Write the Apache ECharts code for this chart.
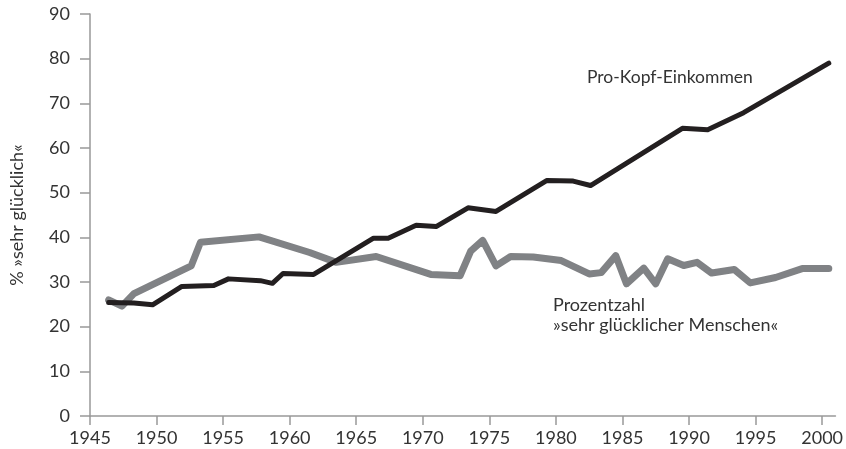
<!DOCTYPE html>
<html>
<head>
<meta charset="utf-8">
<script src="https://cdn.jsdelivr.net/npm/echarts@6/dist/echarts.min.js"></script>
<style>
  html, body { margin: 0; padding: 0; background: #fff; }
  #chart { width: 846px; height: 449px; }
</style>
</head>
<body>
<div id="chart"></div>
<script>
// values
const einkommen = [
  [1946.4, 25.4], [1948.3, 25.3], [1949.7, 24.9], [1951.9, 29.0], [1954.3, 29.2],
  [1955.4, 30.7], [1957.8, 30.3], [1958.7, 29.7], [1959.5, 31.9], [1961.8, 31.7],
  [1966.3, 39.8], [1967.4, 39.8], [1969.5, 42.7], [1971.0, 42.4], [1973.4, 46.6],
  [1975.5, 45.8], [1979.3, 52.7], [1981.3, 52.6], [1982.6, 51.6], [1989.5, 64.4],
  [1991.4, 64.1], [1994.1, 67.9], [2000.5, 79.0]
];
const gluecklich = [
  [1946.4, 26.0], [1947.4, 24.6], [1948.3, 27.4], [1952.6, 33.6], [1953.3, 38.9],
  [1957.7, 40.1], [1961.5, 36.6], [1963.5, 34.4], [1966.5, 35.7], [1970.6, 31.7],
  [1972.8, 31.4], [1973.6, 36.9], [1974.5, 39.3], [1975.5, 33.6], [1976.6, 35.7],
  [1978.3, 35.6], [1980.4, 34.8], [1982.5, 31.8], [1983.4, 32.1], [1984.5, 35.9],
  [1985.3, 29.6], [1986.6, 33.1], [1987.5, 29.6], [1988.4, 35.2], [1989.6, 33.7],
  [1990.6, 34.4], [1991.7, 32.0], [1993.4, 32.8], [1994.6, 29.8], [1996.5, 31.0],
  [1998.5, 33.0], [2000.5, 33.0]
];
const xTicks = [1945, 1950, 1955, 1960, 1965, 1970, 1975, 1980, 1985, 1990, 1995, 2000];

const font = 'Lato, "Open Sans", sans-serif';
const textColor = '#333';
const axisColor = '#999';

const chart = echarts.init(document.getElementById('chart'));

chart.setOption({
  animation: false,
  grid: { left: 89, right: 9, top: 14, bottom: 33 },
  xAxis: {
    type: 'value',
    min: 1945,
    max: 2001,
    splitLine: { show: false },
    axisLine: { show: true, lineStyle: { color: axisColor, width: 1.5 } },
    axisTick: { show: true, length: 9, customValues: xTicks, lineStyle: { color: axisColor, width: 1.5 } },
    axisLabel: {
      customValues: xTicks, margin: 13, fontFamily: font, fontSize: 18, color: textColor,
      formatter: v => String(v)
    }
  },
  yAxis: {
    type: 'value',
    min: 0,
    max: 90,
    interval: 10,
    name: '% »sehr glücklich«',
    nameLocation: 'middle',
    nameGap: 64,
    nameTextStyle: { fontFamily: font, fontSize: 18, color: textColor },
    splitLine: { show: false },
    axisLine: { show: true, lineStyle: { color: axisColor, width: 1.5 } },
    axisTick: { show: true, length: 10, lineStyle: { color: axisColor, width: 1.5 } },
    axisLabel: { margin: 20, fontFamily: font, fontSize: 18, color: textColor }
  },
  series: [
    {
      name: 'Prozentzahl »sehr glücklicher Menschen«',
      type: 'line',
      data: gluecklich,
      showSymbol: false,
      z: 2,
      lineStyle: { color: '#808285', width: 7, cap: 'round', join: 'round' }
    },
    {
      name: 'Pro-Kopf-Einkommen',
      type: 'line',
      data: einkommen,
      showSymbol: false,
      z: 3,
      lineStyle: { color: '#231f20', width: 5, cap: 'round', join: 'round' }
    }
  ],
  graphic: [
    {
      type: 'text', left: 587, top: 68,
      style: { text: 'Pro-Kopf-Einkommen', font: '17.5px ' + font, fill: textColor }
    },
    {
      type: 'text', left: 553, top: 295,
      style: { text: 'Prozentzahl\n»sehr glücklicher Menschen«', font: '18px ' + font, fill: textColor, lineHeight: 20 }
    }
  ]
});
</script>
</body>
</html>
